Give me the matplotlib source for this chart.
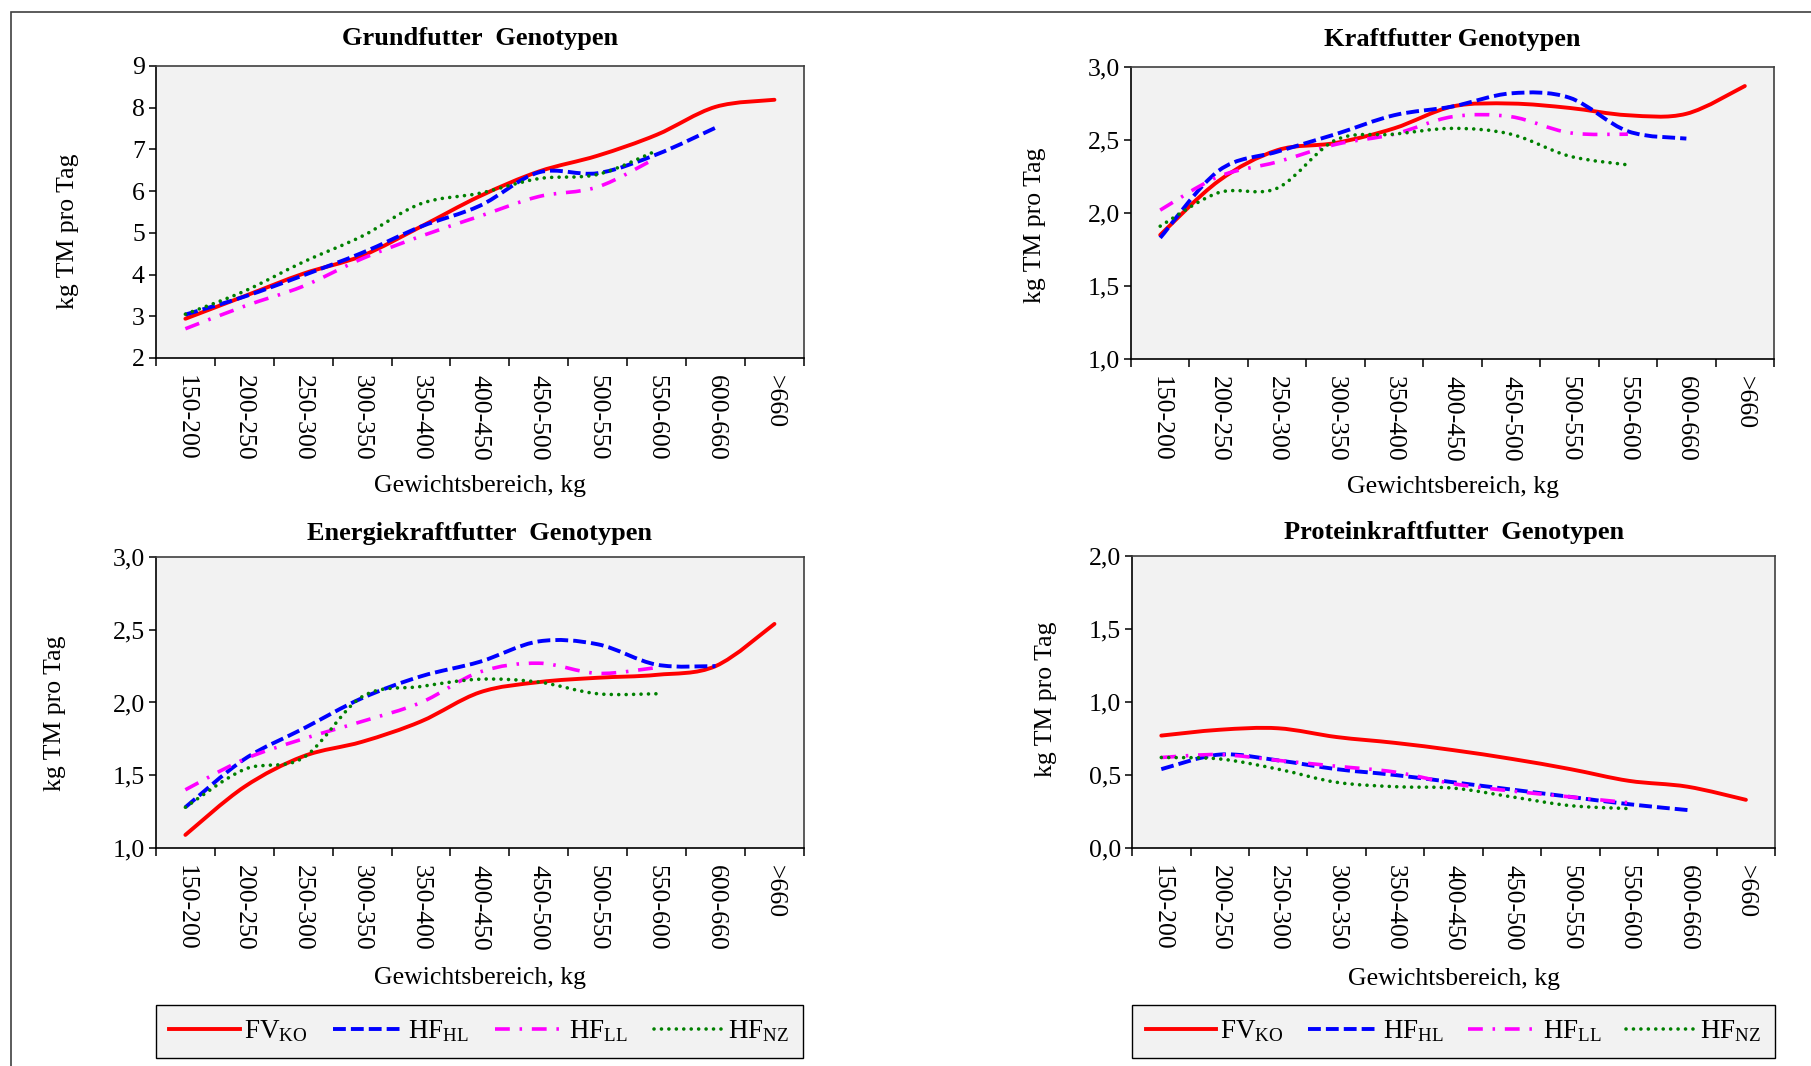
import numpy as np
import matplotlib
matplotlib.use('Agg')
import matplotlib.pyplot as plt
from matplotlib.path import Path
from matplotlib.patches import PathPatch, Rectangle
from matplotlib.lines import Line2D

plt.rcParams['font.family'] = ['Liberation Serif', 'DejaVu Serif']
plt.rcParams['mathtext.fontset'] = 'custom'
plt.rcParams['mathtext.rm'] = 'Liberation Serif'
plt.rcParams['mathtext.it'] = 'Liberation Serif:italic'
plt.rcParams['mathtext.bf'] = 'Liberation Serif:bold'

categories = ['150-200', '200-250', '250-300', '300-350', '350-400', '400-450',
              '450-500', '500-550', '550-600', '600-660', '>660']
series_names = [r'FV$_\mathrm{KO}$', r'HF$_\mathrm{HL}$', r'HF$_\mathrm{LL}$', r'HF$_\mathrm{NZ}$']

# Grundfutter
grund_fv = [2.94, 3.48, 4.02, 4.45, 5.15, 5.88, 6.47, 6.85, 7.35, 8.02, 8.19]
grund_hl = [3.04, 3.47, 3.98, 4.52, 5.15, 5.65, 6.45, 6.43, 6.88, 7.52]
grund_ll = [2.70, 3.24, 3.72, 4.38, 4.92, 5.40, 5.87, 6.10, 6.80]
grund_nz = [3.05, 3.60, 4.30, 4.92, 5.70, 5.95, 6.30, 6.40, 6.97]

# Kraftfutter
kraft_fv = [1.85, 2.22, 2.43, 2.48, 2.58, 2.73, 2.75, 2.72, 2.67, 2.68, 2.87]
kraft_hl = [1.83, 2.29, 2.42, 2.54, 2.67, 2.73, 2.82, 2.79, 2.56, 2.51]
kraft_ll = [2.02, 2.25, 2.35, 2.47, 2.54, 2.66, 2.66, 2.55, 2.54]
kraft_nz = [1.91, 2.14, 2.17, 2.50, 2.54, 2.58, 2.54, 2.39, 2.33]

# Energiekraftfutter
energie_fv = [1.09, 1.42, 1.63, 1.73, 1.87, 2.07, 2.14, 2.17, 2.19, 2.25, 2.54]
energie_hl = [1.28, 1.61, 1.82, 2.03, 2.18, 2.28, 2.42, 2.40, 2.26, 2.25]
energie_ll = [1.40, 1.61, 1.75, 1.87, 2.00, 2.21, 2.27, 2.20, 2.24]
energie_nz = [1.28, 1.54, 1.62, 2.04, 2.11, 2.16, 2.14, 2.06, 2.06]

# Proteinkraftfutter
protein_fv = [0.77, 0.81, 0.82, 0.76, 0.72, 0.67, 0.61, 0.54, 0.46, 0.42, 0.33]
protein_hl = [0.54, 0.64, 0.60, 0.54, 0.50, 0.45, 0.40, 0.35, 0.30, 0.26]
protein_ll = [0.62, 0.64, 0.60, 0.56, 0.52, 0.44, 0.39, 0.35, 0.31]
protein_nz = [0.62, 0.61, 0.54, 0.45, 0.42, 0.41, 0.35, 0.29, 0.27]

grund_ticks = [2, 3, 4, 5, 6, 7, 8, 9]
grund_ticklabels = ['2', '3', '4', '5', '6', '7', '8', '9']
kraft_ticks = [1.0, 1.5, 2.0, 2.5, 3.0]
kraft_ticklabels = ['1,0', '1,5', '2,0', '2,5', '3,0']
protein_ticks = [0.0, 0.5, 1.0, 1.5, 2.0]
protein_ticklabels = ['0,0', '0,5', '1,0', '1,5', '2,0']

styles = [
    dict(edgecolor='#FF0000', linestyle='-', linewidth=2.8, capstyle='round', joinstyle='round'),
    dict(edgecolor='#0000FF', linestyle=(0, (3.3, 1.3)), linewidth=2.8),
    dict(edgecolor='#FF00FF', linestyle=(0, (4.1, 2.7, 0.7, 2.7)), linewidth=2.6),
    dict(edgecolor='#008000', linestyle=(0, (0.01, 2.05)), linewidth=2.6, capstyle='round'),
]

FS = 18.5


def smooth_path(vals):
    # Excel-like smoothed line through the category centres
    pts = np.column_stack([np.arange(len(vals)) + 0.5, vals])
    n = len(pts)
    verts = [pts[0]]
    codes = [Path.MOVETO]
    for i in range(n - 1):
        p0 = pts[max(i - 1, 0)]
        p1 = pts[i]
        p2 = pts[i + 1]
        p3 = pts[min(i + 2, n - 1)]
        verts += [p1 + (p2 - p0) / 6, p2 - (p3 - p1) / 6, p2]
        codes += [Path.CURVE4] * 3
    return Path(verts, codes)


def panel(rect, title, series, yticks, yticklabels, title_pad, ylab_xy, xlab_y):
    ax = fig.add_axes(rect)
    ax.set_facecolor('#F2F2F2')
    for vals, st in zip(series, styles):
        ax.add_patch(PathPatch(smooth_path(vals), facecolor='none', **st))
    ax.set_xlim(0, len(categories))
    ax.set_ylim(yticks[0], yticks[-1])
    ax.set_yticks(yticks)
    ax.set_yticklabels(yticklabels, fontsize=FS)
    ax.set_xticks(np.arange(len(categories) + 1))
    ax.set_xticklabels([])
    ax.set_xticks(np.arange(len(categories)) + 0.5, minor=True)
    ax.set_xticklabels(categories, minor=True, rotation=270, fontsize=FS, va='top', ha='center')
    ax.tick_params(axis='x', which='major', direction='out', length=6, width=1.1)
    ax.tick_params(axis='x', which='minor', length=0, pad=12)
    ax.tick_params(axis='y', direction='out', length=5, width=1.1, pad=3)
    for s in ['left', 'bottom']:
        ax.spines[s].set_color('black')
        ax.spines[s].set_linewidth(1.2)
    for s in ['top', 'right']:
        ax.spines[s].set_color('#404040')
        ax.spines[s].set_linewidth(1.2)
    ax.set_title(title, fontsize=19, fontweight='bold', pad=title_pad)
    ax.set_ylabel('kg TM pro Tag', fontsize=FS)
    ax.yaxis.set_label_coords(*ylab_xy)
    ax.set_xlabel('Gewichtsbereich, kg', fontsize=FS)
    ax.xaxis.set_label_coords(0.5, xlab_y)
    return ax


fig = plt.figure(figsize=(18.11, 10.66), dpi=100)

panel([0.0861, 0.6642, 0.3578, 0.2739], 'Grundfutter  Genotypen',
      [grund_fv, grund_hl, grund_ll, grund_nz], grund_ticks, grund_ticklabels,
      15, (-0.119, 0.435), -0.40)
panel([0.6245, 0.6632, 0.3551, 0.2739], 'Kraftfutter Genotypen',
      [kraft_fv, kraft_hl, kraft_ll, kraft_nz], kraft_ticks, kraft_ticklabels,
      15, (-0.132, 0.459), -0.40)
panel([0.0861, 0.2045, 0.3578, 0.2730], 'Energiekraftfutter  Genotypen',
      [energie_fv, energie_hl, energie_ll, energie_nz], kraft_ticks, kraft_ticklabels,
      12, (-0.139, 0.464), -0.41)
panel([0.6251, 0.2045, 0.3551, 0.2739], 'Proteinkraftfutter  Genotypen',
      [protein_fv, protein_hl, protein_ll, protein_nz], protein_ticks, protein_ticklabels,
      12, (-0.117, 0.51), -0.41)

handles = []
for st in styles:
    handles.append(Line2D([], [], color=st['edgecolor'], linestyle=st['linestyle'],
                          linewidth=st['linewidth'],
                          dash_capstyle=st.get('capstyle', 'butt')))

for left, width in [(0.0861, 0.3573), (0.6251, 0.3551)]:
    fig.legend(handles, series_names, loc='lower left',
               bbox_to_anchor=(left, 0.0075, width, 0.0516), mode='expand', ncol=4,
               fontsize=FS + 1, handlelength=2.6, handletextpad=0.15, borderaxespad=0,
               borderpad=0.5, frameon=True, fancybox=False, edgecolor='black',
               facecolor='#F2F2F2', framealpha=1)

fig.add_artist(Rectangle((11 / 1811, -0.05), 1.1, 1 - 12 / 1066 + 0.05,
                         transform=fig.transFigure, fill=False,
                         edgecolor='#404040', linewidth=1.2, clip_on=False))

fig.savefig('out.png', dpi=100)
